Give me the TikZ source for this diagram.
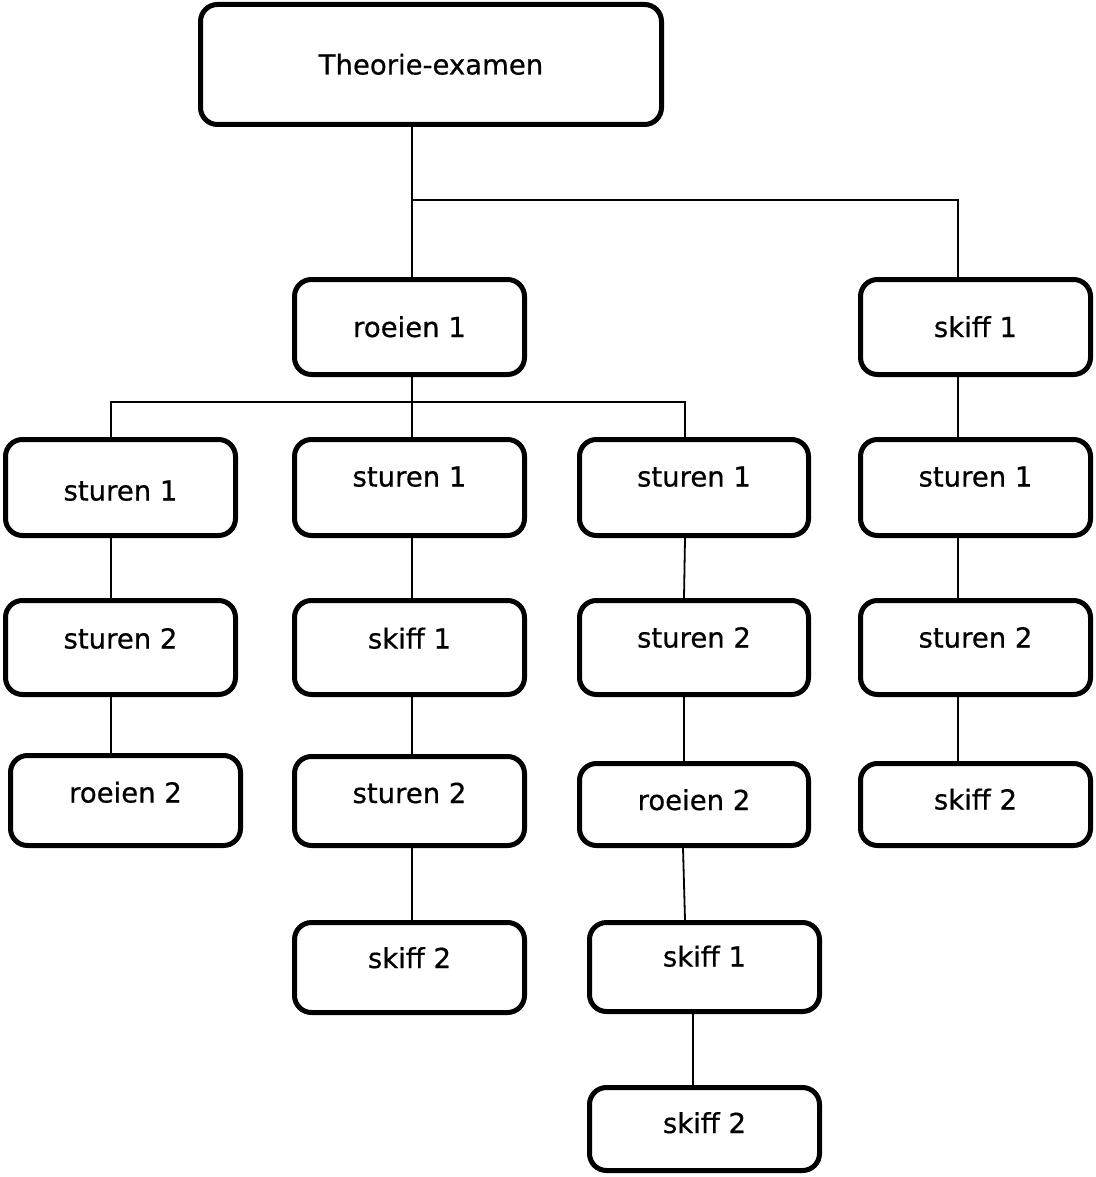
\documentclass[tikz,border=0pt]{standalone}
\usepackage{fontspec}
\setmainfont{DejaVu Sans}[FakeBold=0.6]
\begin{document}
\begin{tikzpicture}[x=1pt,y=-1pt,
  box/.style={draw=black, line width=5pt, rounded corners=17pt, fill=white,
    inner sep=0pt, text height=20pt, text depth=0pt,
    font=\fontsize{27.5}{33}\selectfont, minimum width=230pt},
  conn/.style={draw=black, line width=1.8pt}]
\useasboundingbox (0,0) rectangle (1095,1177);
% nodes
\node[box, minimum width=461pt, minimum height=120pt] (T) at (431,64.5) {Theorie-examen};
\node[box, minimum height=95pt] (R1) at (409.5,327) {roeien 1};
\node[box, minimum height=95pt] (S1) at (975.5,327) {skiff 1};
% column 1
\node[box, minimum height=96pt, text height=26pt] (A1) at (120.5,487.5) {sturen 1};
\node[box, minimum height=94pt, text depth=18pt] (A2) at (120.5,647.5) {sturen 2};
\node[box, minimum height=90pt, text depth=16pt] (A3) at (125.5,800.5) {roeien 2};
% column 2
\node[box, minimum height=96pt, text depth=22pt] (B1) at (409.5,487.5) {sturen 1};
\node[box, minimum height=94pt, text depth=18pt] (B2) at (409.5,647.5) {skiff 1};
\node[box, minimum height=89pt, text depth=16pt] (B3) at (409.5,801) {sturen 2};
\node[box, minimum height=90pt, text depth=19pt] (B4) at (409.5,967.5) {skiff 2};
% column 3
\node[box, minimum width=229pt, minimum height=96pt, text depth=22pt] (C1) at (694,487.5) {sturen 1};
\node[box, minimum width=229pt, minimum height=94pt, text depth=20pt] (C2) at (694,647.5) {sturen 2};
\node[box, minimum width=229pt, minimum height=82pt, text depth=9pt] (C3) at (694,804.5) {roeien 2};
\node[box, minimum height=89pt, text depth=21pt] (C4) at (704.5,967) {skiff 1};
\node[box, minimum height=83pt, text depth=12pt] (C5) at (704.5,1129) {skiff 2};
% column 4
\node[box, minimum height=96pt, text depth=22pt] (D1) at (975.5,487.5) {sturen 1};
\node[box, minimum height=94pt, text depth=20pt] (D2) at (975.5,647.5) {sturen 2};
\node[box, minimum height=82pt, text depth=10pt] (D3) at (975.5,804.5) {skiff 2};
% junctions
\coordinate (jT) at (412,200);
\coordinate (jS) at (958,200);
\coordinate (busL) at (111,402);
\coordinate (busR) at (685,402);
% connectors
\draw[conn] ([xshift=-19pt]T.south) -- ([xshift=2.5pt]R1.north);
\draw[conn] (jT) -- (jS) -- ([xshift=-17.5pt]S1.north);
\draw[conn] ([xshift=2.5pt]R1.south) -- ([xshift=2.5pt]B1.north);
\draw[conn] ([xshift=-9.5pt]A1.north) -- (busL) -- (busR) -- ([xshift=-9pt]C1.north);
\draw[conn] ([xshift=-9.5pt]A1.south) -- ([xshift=-9.5pt]A2.north);
\draw[conn] ([xshift=-9.5pt]A2.south) -- ([xshift=-14.5pt]A3.north);
\draw[conn] ([xshift=2.5pt]B1.south) -- ([xshift=2.5pt]B2.north);
\draw[conn] ([xshift=2.5pt]B2.south) -- ([xshift=2.5pt]B3.north);
\draw[conn] ([xshift=2.5pt]B3.south) -- ([xshift=2.5pt]B4.north);
\draw[conn] ([xshift=-9pt]C1.south) -- ([xshift=-10pt]C2.north);
\draw[conn] ([xshift=-10pt]C2.south) -- ([xshift=-10pt]C3.north);
\draw[conn] ([xshift=-11pt]C3.south) -- ([xshift=-19.5pt]C4.north);
\draw[conn] ([xshift=-11.5pt]C4.south) -- ([xshift=-11.5pt]C5.north);
\draw[conn] ([xshift=-17.5pt]S1.south) -- ([xshift=-17.5pt]D1.north);
\draw[conn] ([xshift=-17.5pt]D1.south) -- ([xshift=-17.5pt]D2.north);
\draw[conn] ([xshift=-17.5pt]D2.south) -- ([xshift=-17.5pt]D3.north);
\end{tikzpicture}
\end{document}
